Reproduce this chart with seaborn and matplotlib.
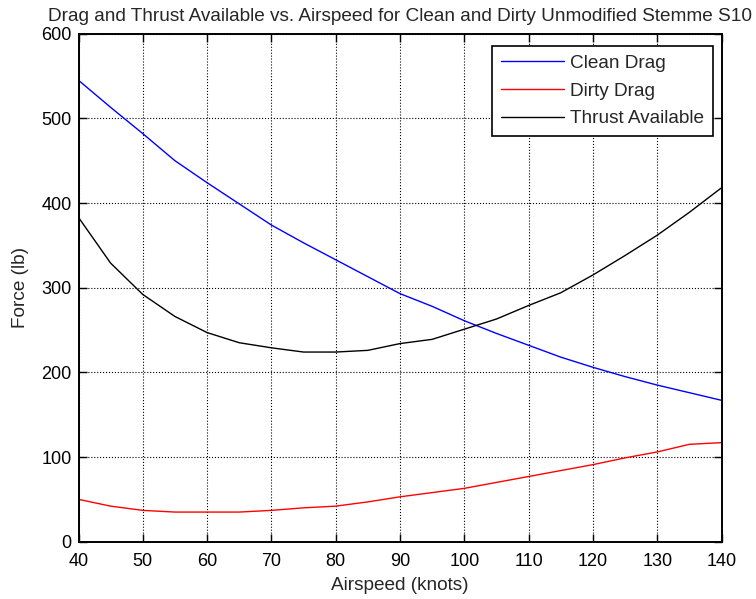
import numpy as np
import pandas as pd
import matplotlib
matplotlib.use("Agg")
import matplotlib.pyplot as plt
import seaborn as sns

# airspeed in knots, forces in lb
airspeed = [40, 45, 50, 55, 60, 65, 70, 75, 80, 85, 90,
            95, 100, 105, 110, 115, 120, 125, 130, 135, 140]
clean_drag = [545, 513, 482, 450, 424, 399, 374, 353, 333, 313, 293,
              278, 261, 246, 232, 218, 206, 195, 185, 176, 167]
dirty_drag = [50, 42, 37, 35, 35, 35, 37, 40, 42, 47, 53,
              58, 63, 70, 77, 84, 91, 99, 106, 115, 117]
thrust_avail = [383, 329, 292, 266, 247, 235, 229, 224, 224, 226, 234,
                239, 251, 263, 279, 294, 315, 338, 362, 389, 418]

df = pd.DataFrame({
    "Airspeed": airspeed * 3,
    "Force": clean_drag + dirty_drag + thrust_avail,
    "Curve": ["Clean Drag"] * len(airspeed) + ["Dirty Drag"] * len(airspeed)
             + ["Thrust Available"] * len(airspeed),
})

sns.set_style("whitegrid", {
    "grid.color": "black",
    "grid.linestyle": ":",
    "axes.edgecolor": "black",
    "xtick.direction": "in",
    "ytick.direction": "in",
})
plt.rcParams["font.family"] = ["Liberation Sans", "DejaVu Sans"]

fig = plt.figure(figsize=(7.56, 5.99), dpi=100)
ax = fig.add_axes([78.5 / 756, 1 - 541.7 / 599, 643 / 756, 508 / 599])

sns.lineplot(data=df, x="Airspeed", y="Force", hue="Curve",
             palette=["#0000ff", "#ff0000", "#000000"], linewidth=1.0, ax=ax)

ax.set_xlim(40, 140)
ax.set_ylim(0, 600)
ax.set_xticks(range(40, 141, 10))
ax.set_yticks(range(0, 601, 100))
ax.grid(True, color="black", linestyle=":", linewidth=0.8)
for s in ax.spines.values():
    s.set_linewidth(1.4)
    s.set_color("black")
ax.tick_params(axis="both", which="both", direction="in", length=6, width=1,
               labelsize=13, colors="black", top=True, right=True,
               bottom=True, left=True)
ax.tick_params(axis="x", pad=8)
ax.tick_params(axis="y", pad=5)

ax.set_xlabel("Airspeed (knots)", fontsize=13.7, labelpad=5)
ax.set_ylabel("Force (lb)", fontsize=13.7, labelpad=9)
ax.set_title("Drag and Thrust Available vs. Airspeed for Clean and Dirty Unmodified Stemme S10",
             fontsize=13.7, pad=9)

leg = ax.legend(loc="upper right", bbox_to_anchor=(713 / 756, 1 - 46 / 599),
                bbox_transform=fig.transFigure, borderaxespad=0,
                fontsize=13.7, frameon=True, fancybox=False,
                edgecolor="black", framealpha=1, handlelength=3.3,
                handletextpad=0.35, labelspacing=0.55, borderpad=0.45)
leg.get_frame().set_linewidth(1.2)
leg.set_title(None)

fig.savefig("out.png", dpi=100)
